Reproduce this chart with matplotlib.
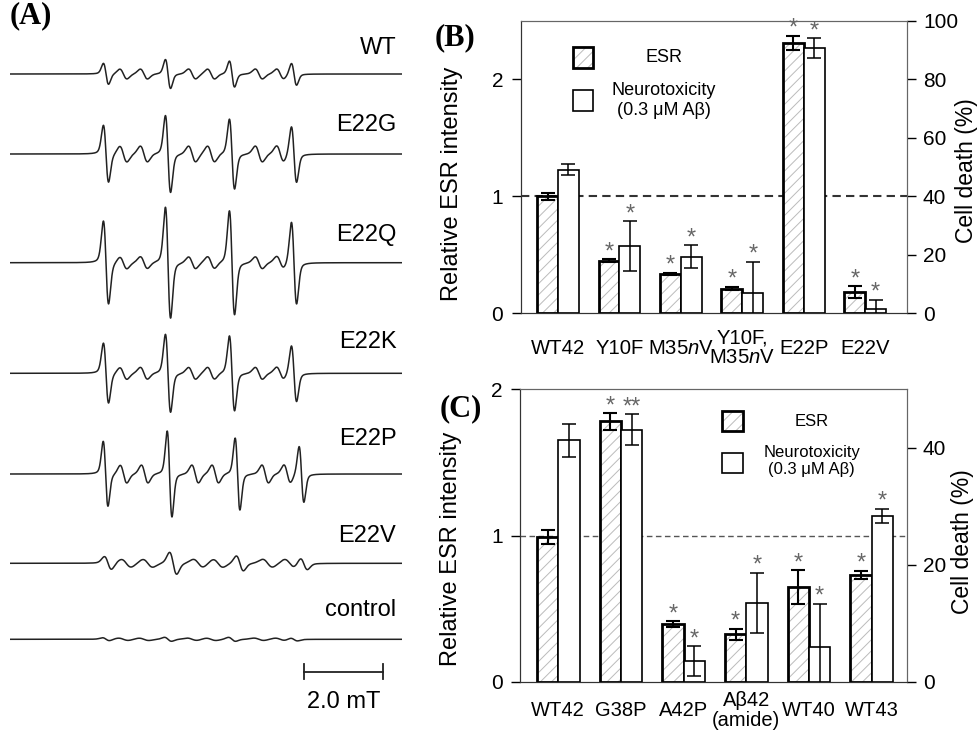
import numpy as np
import matplotlib.pyplot as plt
from matplotlib.patches import Rectangle

plt.rcParams['font.family'] = 'Liberation Sans'
plt.rcParams['mathtext.fontset'] = 'custom'
plt.rcParams['mathtext.rm'] = 'Liberation Sans'
plt.rcParams['mathtext.it'] = 'Liberation Sans:italic'
plt.rcParams['hatch.linewidth'] = 0.7

# ---------------- (A) ESR spectra ----------------
# line centres in mT, derivative amplitudes in a.u.
trace_names = ['WT', 'E22G', 'E22Q', 'E22K', 'E22P', 'E22V', 'control']
common_major = [2.43, 4.00, 5.62, 7.19]
major_field = [common_major, common_major, common_major, common_major,
               [2.42, 4.04, 5.76, 7.38],
               [2.48, 4.13, 5.82, 7.44],
               common_major]
minor_field = [2.87, 3.39, 4.61, 5.09, 6.30, 6.84]
major_amp = [[10.5, 14.5, 13.0, 11.0],
             [28.5, 38.5, 35.0, 28.0],
             [41.5, 55.5, 52.0, 41.0],
             [30.0, 39.0, 37.5, 28.0],
             [32.5, 43.0, 36.0, 28.0],
             [6.5, 11.0, 7.5, 6.0],
             [1.5, 2.0, 2.0, 1.5]]
minor_amp = [5.0, 8.0, 6.0, 6.0, 9.0, 4.0, 1.2]
line_width = [0.065, 0.065, 0.065, 0.065, 0.06, 0.09, 0.09]
scale_bar_mT = 2.0

# ---------------- (B) ----------------
b_labels = ['WT42', 'Y10F', 'M35$\\it{n}$V', 'Y10F,\nM35$\\it{n}$V', 'E22P', 'E22V']
b_esr = [1.00, 0.45, 0.335, 0.21, 2.31, 0.18]
b_esr_err = [0.03, 0.01, 0.01, 0.015, 0.06, 0.05]
b_tox = [49.1, 23.0, 19.4, 6.8, 90.6, 1.4]
b_tox_err = [2.0, 8.5, 3.9, 10.8, 3.4, 3.2]
b_esr_star = ['', '*', '*', '*', '*', '*']
b_tox_star = ['', '*', '*', '*', '*', '*']

# ---------------- (C) ----------------
c_labels = ['WT42', 'G38P', 'A42P', 'A\u03b242\n(amide)', 'WT40', 'WT43']
c_esr = [0.99, 1.78, 0.395, 0.324, 0.646, 0.73]
c_esr_err = [0.045, 0.057, 0.02, 0.038, 0.115, 0.03]
c_tox = [41.3, 43.1, 3.5, 13.5, 5.9, 28.4]
c_tox_err = [2.8, 2.6, 2.6, 5.1, 7.4, 1.2]
c_esr_star = ['', '*', '*', '*', '*', '*']
c_tox_star = ['', '**', '*', '*', '*', '*']


def line_deriv(field, centre, width):
    # first-derivative line: mostly gaussian with a little lorentzian tail
    u = (field - centre) / width
    gauss = -u * np.exp(-u ** 2 / 2) / 0.6065
    v = u * 0.577
    lor = -2 * v / (1 + v ** 2) ** 2 / 0.6495
    return 0.75 * gauss + 0.25 * lor


fig = plt.figure(figsize=(9.8, 7.34), dpi=100)

# panel A, y in pixel rows so traces stack like the original
axA = fig.add_axes([10 / 980, 0, 392 / 980, 1])
axA.set_xlim(0, 392 / 39.5)
axA.set_ylim(734, 0)
axA.axis('off')
baselines = [74, 154, 262.7, 373.3, 474, 563.3, 639.3]
label_rows = [48, 125, 235, 341.7, 439.3, 535.7, 610]
field = np.linspace(0, 392 / 39.5, 5000)
for i, name in enumerate(trace_names):
    sig = np.zeros_like(field)
    for c, a in zip(major_field[i], major_amp[i]):
        sig += a * line_deriv(field, c, line_width[i])
    minor_pos = np.interp(minor_field, common_major, major_field[i])
    for c in minor_pos:
        sig += minor_amp[i] * line_deriv(field, c, line_width[i] * 1.4)
    axA.plot(field, baselines[i] - sig, color='#222222', lw=1.1)
    axA.text(9.78, label_rows[i], name, fontsize=17, ha='right', va='center')

sb_x0 = (304 - 10) / 39.5
axA.plot([sb_x0, sb_x0 + scale_bar_mT], [671.7, 671.7], color='#222222', lw=1.3)
for xx in [sb_x0, sb_x0 + scale_bar_mT]:
    axA.plot([xx, xx], [664, 679], color='#222222', lw=1.3)
axA.text(sb_x0 + scale_bar_mT / 2, 702, '%.1f mT' % scale_bar_mT, fontsize=17,
         ha='center', va='center')


def draw_panel(rect, labels, esr, esr_err, tox, tox_err, esr_star, tox_star,
               esr_max, tox_max, tox_ticks, xlim, label_pad, label_fs, dash_lw,
               dash_col, leg, leg_fs, ylab_pos):
    ax = fig.add_axes(rect)
    x = np.arange(len(labels))
    w = 0.34
    ax.set_xlim(*xlim)
    ax.set_ylim(0, esr_max)
    ax.axhline(1.0, color=dash_col, lw=dash_lw, ls=(0, (4, 2.5)), zorder=0.5)

    # ESR bars: hatch layer, then thick black outline
    ax.bar(x - w / 2, esr, w, color='white', edgecolor='#bbbbbb', hatch='///',
           lw=0, zorder=2)
    ax.bar(x - w / 2, esr, w, fill=False, edgecolor='black', lw=2.0, zorder=3)
    ax.errorbar(x - w / 2, esr, yerr=esr_err, fmt='none', ecolor='black',
                elinewidth=1.5, capsize=5, capthick=1.5, zorder=4)
    for xi, yi, ei, s in zip(x - w / 2, esr, esr_err, esr_star):
        if s:
            ax.annotate(s, (xi, yi + ei), xytext=(0, 5), textcoords='offset points',
                        ha='center', va='center', fontsize=17, color='#666666')

    ax2 = ax.twinx()
    ax2.set_ylim(0, tox_max)
    ax2.bar(x + w / 2, tox, w, color='white', edgecolor='black', lw=1.2, zorder=2)
    ax2.errorbar(x + w / 2, tox, yerr=tox_err, fmt='none', ecolor='black',
                 elinewidth=1.1, capsize=5, capthick=1.1, zorder=4)
    for xi, yi, ei, s in zip(x + w / 2, tox, tox_err, tox_star):
        if s:
            ax2.annotate(s, (xi, yi + ei), xytext=(0, 5), textcoords='offset points',
                         ha='center', va='center', fontsize=17, color='#666666')

    ax.set_xticks(x)
    ax.set_xticklabels(labels, fontsize=label_fs, linespacing=1.05)
    for t in ax.get_xticklabels():
        t.set_va('center')
    ax.tick_params(axis='x', length=0, pad=label_pad)
    ax.set_yticks([0, 1, 2])
    ax.tick_params(axis='y', direction='out', length=6.5, width=1, labelsize=15, pad=6)
    ax2.set_yticks(tox_ticks)
    ax2.tick_params(axis='y', direction='out', length=6.5, width=1, labelsize=15, pad=5)

    for a in (ax, ax2):
        a.spines['top'].set_color('#666666')
        a.spines['right'].set_color('#666666')
        a.spines['left'].set_color('#333333')
        a.spines['bottom'].set_color('#333333')

    ax.set_ylabel('Relative ESR intensity', fontsize=17)
    ax.yaxis.set_label_coords(-0.149, ylab_pos[0])
    ax2.set_ylabel('Cell death (%)', fontsize=16.5)
    ax2.yaxis.set_label_coords(ylab_pos[2], ylab_pos[1])

    # legend drawn by hand: boxes plus centred captions
    bx, bw, bh, y_esr, y_tox, tx, ty_esr, ty_n1, ty_n2 = leg
    ax.add_patch(Rectangle((bx, y_esr), bw, bh, transform=ax.transAxes,
                           facecolor='white', edgecolor='#bbbbbb', hatch='///',
                           lw=0, zorder=5))
    ax.add_patch(Rectangle((bx, y_esr), bw, bh, transform=ax.transAxes,
                           fill=False, edgecolor='black', lw=2.0, zorder=6))
    ax.add_patch(Rectangle((bx, y_tox), bw, bh, transform=ax.transAxes,
                           facecolor='white', edgecolor='black', lw=1.2, zorder=5))
    ax.text(tx, ty_esr, 'ESR', transform=ax.transAxes, fontsize=leg_fs,
            ha='center', va='center')
    ax.text(tx, ty_n1, 'Neurotoxicity', transform=ax.transAxes, fontsize=leg_fs,
            ha='center', va='center')
    ax.text(tx, ty_n2, '(0.3 \u03bcM A\u03b2)', transform=ax.transAxes, fontsize=leg_fs,
            ha='center', va='center')
    return ax, ax2


draw_panel([520.7 / 980, 1 - 313.3 / 734, 386.3 / 980, 292.6 / 734],
           b_labels, b_esr, b_esr_err, b_tox, b_tox_err, b_esr_star, b_tox_star,
           2.5, 100, [0, 20, 40, 60, 80, 100], (-0.607, 5.68), 25, 14.6, 1.5, '#333333',
           (0.1346, 0.0533, 0.0718, 0.837, 0.691, 0.371, 0.8735, 0.761, 0.692), 13,
           (0.444, 0.486, 1.125))

draw_panel([520 / 980, 1 - 681.7 / 734, 386.7 / 980, 292.4 / 734],
           c_labels, c_esr, c_esr_err, c_tox, c_tox_err, c_esr_star, c_tox_star,
           2.0, 50, [0, 20, 40], (-0.61, 5.56), 21, 14.5, 1.0, '#555555',
           (0.5216, 0.0559, 0.0684, 0.857, 0.714, 0.754, 0.889, 0.785, 0.727), 12,
           (0.454, 0.479, 1.115))

fig.text(10 / 980, 1 - 16 / 734, '(A)', fontsize=22, fontweight='bold',
         family='Liberation Serif', ha='left', va='center')
fig.text(435 / 980, 1 - 38 / 734, '(B)', fontsize=22, fontweight='bold',
         family='Liberation Serif', ha='left', va='center')
fig.text(440 / 980, 1 - 409 / 734, '(C)', fontsize=22, fontweight='bold',
         family='Liberation Serif', ha='left', va='center')

fig.savefig('out.png', dpi=100)
